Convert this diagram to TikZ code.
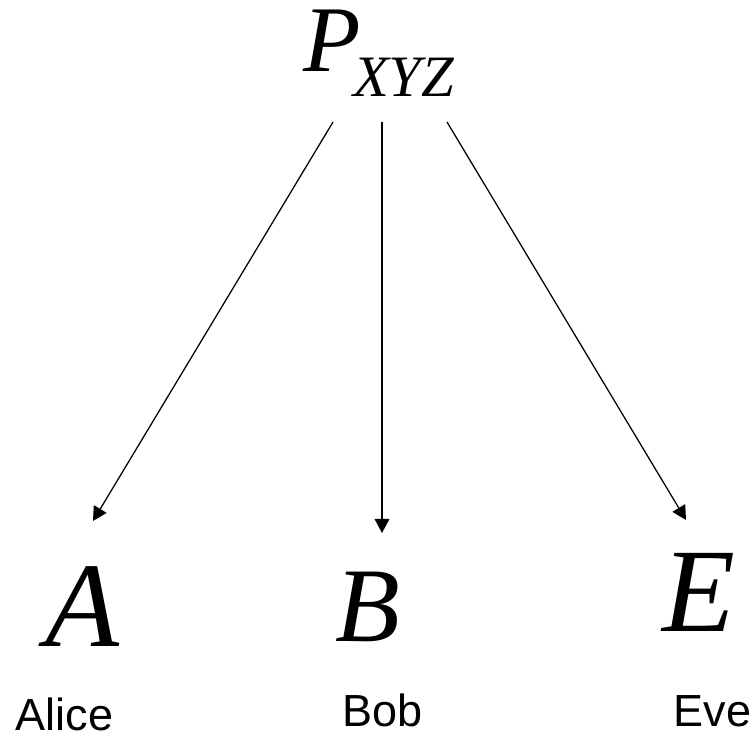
\documentclass[tikz,border=0pt]{standalone}
\usepackage{fontspec}
\setmainfont{Liberation Serif}
\newfontfamily\namefont{Liberation Sans}
\usepackage{tikz}
\usetikzlibrary{arrows.meta}

\tikzset{
  party/.style={anchor=base west, inner sep=0pt, font=\itshape},
  who/.style={anchor=base west, inner sep=0pt, font=\namefont\fontsize{33.75}{36}\selectfont},
}

\begin{document}
\begin{tikzpicture}[x=0.75pt, y=-0.75pt, >={Triangle[length=10.5pt, width=11pt]}, line width=0.95pt]
  \useasboundingbox (0,0) rectangle (754,737);
  % source
  \node[party] (P) at (303,72) {\fontsize{70.5}{72}\selectfont P\kern-6pt\raisebox{-18.75pt}{\fontsize{44}{44}\selectfont XYZ}};
  % the three parties
  \node[party, font=\itshape\fontsize{90.75}{92}\selectfont] (A) at (45,647) {A};
  \node[party, font=\itshape\fontsize{79.5}{80}\selectfont] (B) at (335,642) {B};
  \node[party, font=\itshape\fontsize{89.5}{90}\selectfont] (E) at (662,632) {E};
  \node[who] (alice) at (15,731) {Alice};
  \node[who] (bob) at (342,727) {Bob};
  \node[who] (eve) at (673,727) {Eve};
  % distribution
  \draw[->] ([shift={(30,50)}]P.base west) -- ([shift={(48,-126)}]A.base west);
  \draw[->] ([shift={(79,50)}]P.base west) -- ([shift={(47,-109)}]B.base west);
  \draw[->] ([shift={(144,50)}]P.base west) -- ([shift={(24,-112)}]E.base west);
\end{tikzpicture}
\end{document}
